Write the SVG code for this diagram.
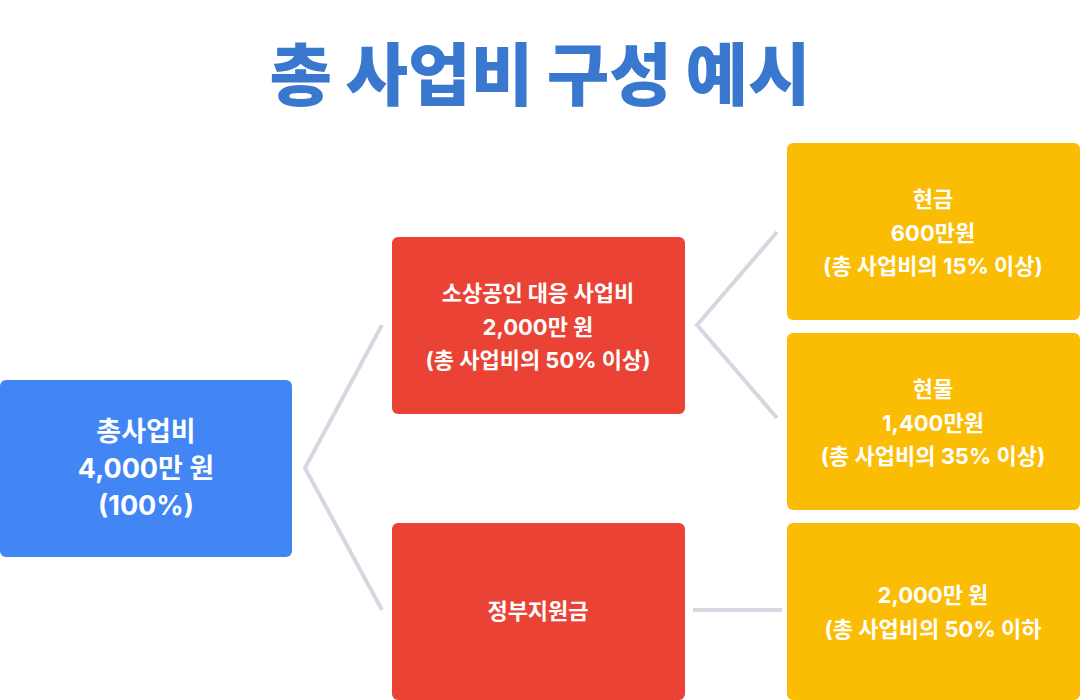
<svg xmlns="http://www.w3.org/2000/svg" width="1080" height="700" viewBox="0 0 1080 700">
<style>
text{font-family:"Inter","Noto Sans CJK KR","Noto Sans",sans-serif;font-weight:bold;fill:#fff;text-anchor:middle}
.t{fill:#3a78d0;font-size:68px;font-weight:900}
.b{font-size:27px}.s{font-size:22px}
.c{fill:none;stroke:#d5d8e0;stroke-width:4}
</style>
<rect width="1080" height="700" fill="#fff"/>
<text class="t" x="540" y="100">총 사업비 구성 예시</text>
<g id="connectors">
<polyline class="c" points="382,325 305,468 382,610"/>
<polyline class="c" points="777,232 697,325 777,418"/>
<line class="c" x1="693" y1="610" x2="782" y2="610"/>
</g>
<g id="total"><rect x="0" y="380" width="292" height="177" rx="6" fill="#4285f4"/>
<text class="b" x="146" y="441">총사업비</text><text class="b" x="146" y="478">4,000만 원</text><text class="b" x="146" y="515">(100%)</text></g>
<g id="match"><rect x="392" y="237" width="293" height="177" rx="6" fill="#ea4335"/>
<text class="s" x="538" y="301">소상공인 대응 사업비</text><text class="s" x="538" y="335">2,000만 원</text><text class="s" x="538" y="368">(총 사업비의 50% 이상)</text></g>
<g id="gov"><rect x="392" y="523" width="293" height="177" rx="6" fill="#ea4335"/>
<text class="s" x="538" y="619">정부지원금</text></g>
<g id="cash"><rect x="787" y="143" width="293" height="177" rx="6" fill="#fbbc04"/>
<text class="s" x="933" y="207">현금</text><text class="s" x="933" y="241">600만원</text><text class="s" x="933" y="274">(총 사업비의 15% 이상)</text></g>
<g id="kind"><rect x="787" y="333" width="293" height="177" rx="6" fill="#fbbc04"/>
<text class="s" x="933" y="397">현물</text><text class="s" x="933" y="431">1,400만원</text><text class="s" x="933" y="464">(총 사업비의 35% 이상)</text></g>
<g id="govamt"><rect x="787" y="523" width="293" height="177" rx="6" fill="#fbbc04"/>
<text class="s" x="933" y="603">2,000만 원</text><text class="s" x="933" y="637">(총 사업비의 50% 이하</text></g>
</svg>
